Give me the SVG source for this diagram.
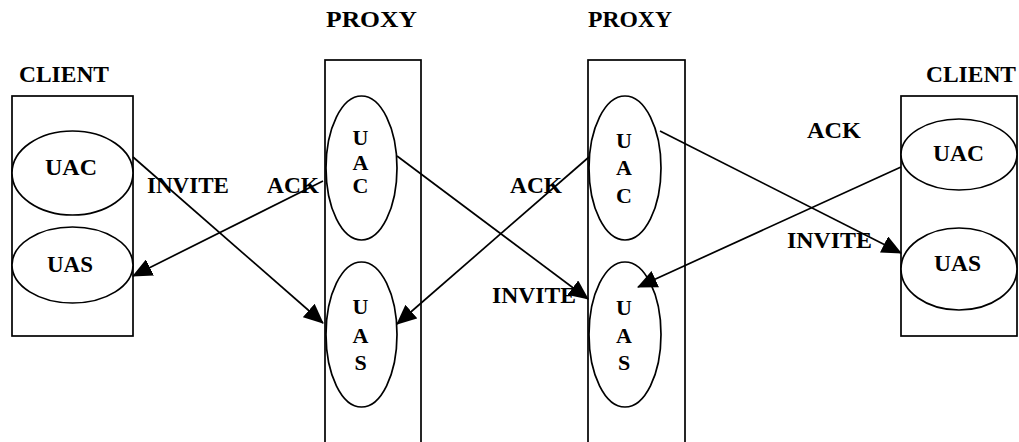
<svg xmlns="http://www.w3.org/2000/svg" width="1019" height="442" viewBox="0 0 1019 442">
  <defs>
    <marker id="arrow" markerUnits="userSpaceOnUse" markerWidth="20" markerHeight="18" refX="19" refY="9" orient="auto">
      <path d="M0,0 L20,9 L0,18 z" fill="#000"/>
    </marker>
    <style>
      .box { fill: #fff; stroke: #000; stroke-width: 1.7; }
      .agent { fill: #fff; stroke: #000; stroke-width: 1.7; }
      .lbl { font-family: "Liberation Serif", "Times New Roman", serif; font-weight: bold; font-size: 23px; fill: #000; }
      .vl { font-family: "Liberation Serif", "Times New Roman", serif; font-weight: bold; font-size: 22px; fill: #000; text-anchor: middle; }
      .msg { fill: none; stroke: #000; stroke-width: 1.7; marker-end: url(#arrow); }
    </style>
  </defs>
  <rect width="1019" height="442" fill="#fff"/>

  <!-- left client -->
  <g id="client-left">
    <text class="lbl" x="19" y="82" textLength="90" lengthAdjust="spacingAndGlyphs">CLIENT</text>
    <rect class="box" x="12" y="96" width="121" height="240"/>
    <ellipse class="agent" cx="72.5" cy="173" rx="60.5" ry="42"/>
    <text class="lbl" x="45" y="175" textLength="52" lengthAdjust="spacingAndGlyphs">UAC</text>
    <ellipse class="agent" cx="72.5" cy="265" rx="60.5" ry="38"/>
    <text class="lbl" x="47" y="272" textLength="46" lengthAdjust="spacingAndGlyphs">UAS</text>
  </g>

  <!-- first proxy -->
  <g id="proxy-1">
    <text class="lbl" x="326" y="27" textLength="91" lengthAdjust="spacingAndGlyphs">PROXY</text>
    <rect class="box" x="325" y="60" width="96" height="400"/>
    <ellipse class="agent" cx="361.5" cy="168" rx="35.5" ry="72"/>
    <text class="vl" x="360.5" y="145">U</text>
    <text class="vl" x="360.5" y="170">A</text>
    <text class="vl" x="360.5" y="193">C</text>
    <ellipse class="agent" cx="361.5" cy="334.5" rx="35.5" ry="72.5"/>
    <text class="vl" x="360.5" y="314">U</text>
    <text class="vl" x="360.5" y="343">A</text>
    <text class="vl" x="360.5" y="370">S</text>
  </g>

  <!-- second proxy -->
  <g id="proxy-2">
    <text class="lbl" x="588" y="27" textLength="84" lengthAdjust="spacingAndGlyphs">PROXY</text>
    <rect class="box" x="588" y="60" width="97" height="400"/>
    <ellipse class="agent" cx="625" cy="168" rx="36" ry="72"/>
    <text class="vl" x="624" y="148">U</text>
    <text class="vl" x="624" y="175">A</text>
    <text class="vl" x="624" y="203">C</text>
    <ellipse class="agent" cx="625" cy="334.5" rx="36" ry="72.5"/>
    <text class="vl" x="624" y="315">U</text>
    <text class="vl" x="624" y="343">A</text>
    <text class="vl" x="624" y="370">S</text>
  </g>

  <!-- right client -->
  <g id="client-right">
    <text class="lbl" x="926" y="82" textLength="90" lengthAdjust="spacingAndGlyphs">CLIENT</text>
    <rect class="box" x="901" y="96" width="116" height="240"/>
    <ellipse class="agent" cx="959" cy="154.5" rx="58" ry="35.5"/>
    <text class="lbl" x="933" y="161" textLength="51" lengthAdjust="spacingAndGlyphs">UAC</text>
    <ellipse class="agent" cx="959" cy="269" rx="58" ry="41"/>
    <text class="lbl" x="934" y="271" textLength="47" lengthAdjust="spacingAndGlyphs">UAS</text>
  </g>

  <!-- messages -->
  <g id="connectors">
    <line class="msg" x1="133" y1="157" x2="323" y2="323"/>
    <line class="msg" x1="323" y1="181" x2="133" y2="276"/>
    <line class="msg" x1="397" y1="156" x2="588" y2="299"/>
    <line class="msg" x1="589" y1="157" x2="397" y2="324"/>
    <line class="msg" x1="660" y1="131" x2="901" y2="253"/>
    <line class="msg" x1="901" y1="167" x2="638" y2="287"/>
  </g>

  <!-- message labels -->
  <g id="labels">
    <text class="lbl" x="147" y="193" textLength="82" lengthAdjust="spacingAndGlyphs">INVITE</text>
    <text class="lbl" x="267" y="193" textLength="52" lengthAdjust="spacingAndGlyphs">ACK</text>
    <text class="lbl" x="510" y="193" textLength="52" lengthAdjust="spacingAndGlyphs">ACK</text>
    <text class="lbl" x="492" y="303" textLength="84" lengthAdjust="spacingAndGlyphs">INVITE</text>
    <text class="lbl" x="807" y="138" textLength="54" lengthAdjust="spacingAndGlyphs">ACK</text>
    <text class="lbl" x="787" y="248" textLength="85" lengthAdjust="spacingAndGlyphs">INVITE</text>
  </g>
</svg>
